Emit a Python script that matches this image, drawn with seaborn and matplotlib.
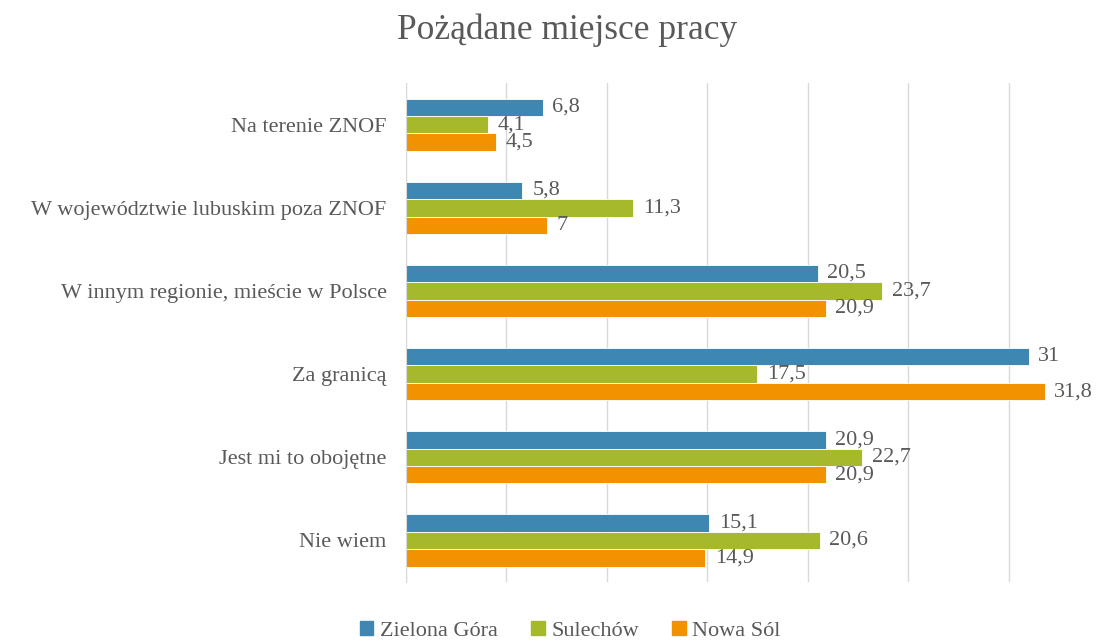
import pandas as pd
import matplotlib.pyplot as plt
import seaborn as sns

# Data
categories = [
    "Na terenie ZNOF",
    "W województwie lubuskim poza ZNOF",
    "W innym regionie, mieście w Polsce",
    "Za granicą",
    "Jest mi to obojętne",
    "Nie wiem",
]
cities = ["Zielona Góra", "Sulechów", "Nowa Sól"]
zielona_gora = [6.8, 5.8, 20.5, 31, 20.9, 15.1]
sulechow = [4.1, 11.3, 23.7, 17.5, 22.7, 20.6]
nowa_sol = [4.5, 7, 20.9, 31.8, 20.9, 14.9]
colors = ["#3F87B3", "#A5B92A", "#F39200"]

rows = []
for city, vals in zip(cities, [zielona_gora, sulechow, nowa_sol]):
    for cat, v in zip(categories, vals):
        rows.append({"category": cat, "city": city, "value": v})
df = pd.DataFrame(rows)

sns.set_style("white")
plt.rcParams["font.family"] = ["Liberation Serif", "DejaVu Serif"]
text_color = "#595959"

fig = plt.figure(figsize=(10.97, 6.42), dpi=100)
ax = fig.add_axes([0.3701, 0.0935, 0.6408, 0.777])

sns.barplot(data=df, x="value", y="category", hue="city", orient="h",
            palette=colors, saturation=1, width=0.63, ax=ax,
            edgecolor="white", linewidth=0.6, legend=False)

ax.set_xlim(0, 35)
ax.set_xticks(range(0, 36, 5))
ax.grid(axis="x", color="#D9D9D9", linewidth=1)
ax.set_axisbelow(True)
ax.tick_params(axis="x", labelbottom=False, length=0)
ax.tick_params(axis="y", length=0, pad=14, labelsize=16, labelcolor=text_color)
ax.set_xlabel("")
ax.set_ylabel("")
for s in ["top", "right", "bottom"]:
    ax.spines[s].set_visible(False)
ax.spines["left"].set_color("#D9D9D9")

for cont in ax.containers:
    labels = [f"{b.get_width():g}".replace(".", ",") for b in cont]
    ax.bar_label(cont, labels=labels, padding=7, fontsize=16, color=text_color)

fig.text(0.517, 0.953, "Pożądane miejsce pracy", ha="center", va="center",
         fontsize=25.5, color=text_color)

handles = [plt.Rectangle((0, 0), 1, 1, color=c) for c in colors]
fig.legend(handles, cities, loc="center", bbox_to_anchor=(0.52, 0.017), ncol=3,
           frameon=False, fontsize=16, handlelength=0.6, handleheight=0.6,
           handletextpad=0.3, columnspacing=1.5, labelcolor=text_color)

fig.savefig("out.png", dpi=100)
